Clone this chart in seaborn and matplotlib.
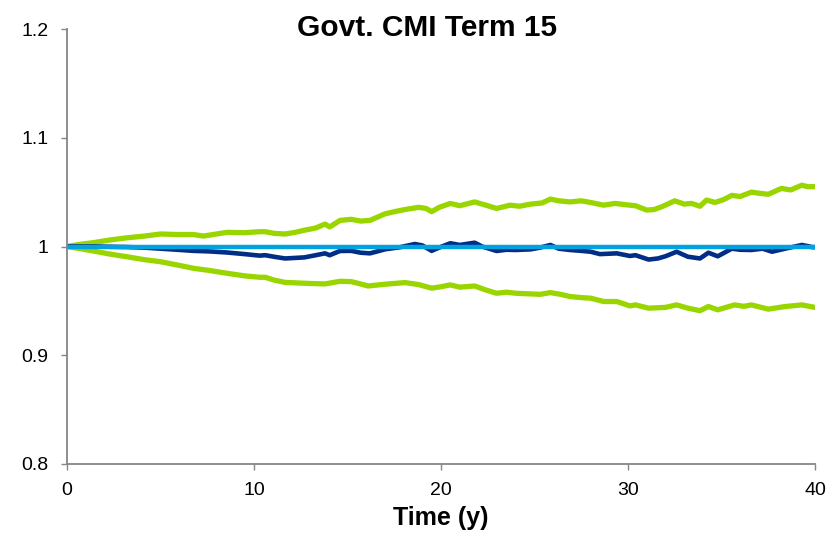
import matplotlib
matplotlib.use("Agg")
import matplotlib.pyplot as plt
import seaborn as sns
import pandas as pd
from matplotlib.ticker import FuncFormatter

# Percentile bands and central path of the index, by projection year
upper_t = [0, 0.7, 1.4, 2.3, 3.2, 4.1, 5.0, 5.9, 6.75, 7.3, 8.0, 8.55, 9.5, 10.3, 10.6,
           11.1, 11.66, 12.2, 12.7, 13.3, 13.8, 14.05, 14.6, 15.2, 15.7, 16.2, 16.6, 17.0,
           17.5, 18.07, 18.8, 19.2, 19.5, 19.9, 20.5, 21.0, 21.8, 22.4, 22.97, 23.7, 24.2,
           24.8, 25.4, 25.85, 26.3, 26.9, 27.5, 28.0, 28.7, 29.3, 30.1, 30.4, 31.0, 31.4,
           31.8, 32.5, 33.0, 33.4, 33.85, 34.2, 34.65, 35.1, 35.55, 36.0, 36.6, 37.0, 37.5,
           38.2, 38.7, 39.3, 39.6, 40.0]
upper_v = [1.0, 1.002, 1.0035, 1.006, 1.008, 1.0095, 1.0115, 1.011, 1.011, 1.0096, 1.0115,
           1.013, 1.0127, 1.0136, 1.0136, 1.012, 1.0115, 1.013, 1.015, 1.017, 1.0206, 1.018,
           1.024, 1.025, 1.0234, 1.024, 1.027, 1.030, 1.032, 1.034, 1.036, 1.035, 1.032,
           1.036, 1.0396, 1.0375, 1.041, 1.038, 1.035, 1.038, 1.037, 1.039, 1.040, 1.0436,
           1.042, 1.041, 1.042, 1.0405, 1.038, 1.0396, 1.038, 1.0375, 1.0335, 1.034, 1.0365,
           1.042, 1.039, 1.0396, 1.037, 1.0427, 1.0405, 1.043, 1.047, 1.046, 1.050, 1.049,
           1.048, 1.0534, 1.052, 1.0564, 1.055, 1.055]

lower_t = [0, 0.7, 1.4, 2.3, 3.2, 4.1, 5.0, 5.9, 6.75, 7.6, 8.55, 9.5, 10.3, 10.6, 11.1,
           11.66, 12.3, 13.0, 13.8, 14.6, 15.2, 15.6, 16.1, 17.0, 17.5, 18.07, 18.8, 19.5,
           20.0, 20.5, 21.0, 21.8, 22.4, 22.97, 23.5, 24.0, 24.8, 25.3, 25.85, 26.4, 26.9,
           27.5, 28.0, 28.7, 29.4, 30.1, 30.4, 31.1, 32.0, 32.6, 33.2, 33.85, 34.3, 34.8,
           35.7, 36.2, 36.6, 37.5, 38.4, 39.3, 40.0]
lower_v = [1.0, 0.998, 0.9959, 0.993, 0.9906, 0.988, 0.986, 0.983, 0.980, 0.978, 0.9754,
           0.973, 0.9717, 0.9717, 0.969, 0.967, 0.9665, 0.966, 0.9656, 0.968, 0.9677, 0.966,
           0.9637, 0.9653, 0.966, 0.9668, 0.965, 0.9617, 0.963, 0.9647, 0.9626, 0.9637,
           0.960, 0.957, 0.958, 0.957, 0.9564, 0.956, 0.9576, 0.956, 0.954, 0.953, 0.9525,
           0.9494, 0.9494, 0.9454, 0.9463, 0.9433, 0.944, 0.9463, 0.9433, 0.941, 0.9448,
           0.9418, 0.9463, 0.945, 0.9463, 0.9424, 0.9448, 0.9463, 0.944]

median_t = [0, 1.5, 3.2, 4.1, 5.0, 5.9, 6.75, 7.6, 8.55, 9.5, 10.3, 10.6, 11.1, 11.66, 12.2,
            12.7, 13.3, 13.8, 14.05, 14.6, 15.2, 15.7, 16.2, 16.6, 17.0, 17.8, 18.6, 19.0,
            19.5, 19.9, 20.5, 21.0, 21.8, 22.2, 22.97, 23.5, 24.0, 24.8, 25.3, 25.85, 26.3,
            26.9, 27.5, 28.0, 28.5, 29.4, 30.1, 30.4, 31.1, 31.6, 32.0, 32.6, 33.2, 33.85,
            34.3, 34.8, 35.55, 36.0, 36.6, 37.2, 37.7, 38.4, 39.3, 39.9, 40.0]
median_v = [1.0, 1.0, 0.9995, 0.999, 0.998, 0.997, 0.996, 0.9955, 0.9945, 0.993, 0.9916,
            0.992, 0.9905, 0.989, 0.9895, 0.990, 0.992, 0.9937, 0.992, 0.9959, 0.996,
            0.9943, 0.9937, 0.9955, 0.9974, 0.9993, 1.0023, 1.001, 0.996, 0.999, 1.003,
            1.0014, 1.0035, 1.000, 0.9959, 0.997, 0.9968, 0.9974, 0.999, 1.0014, 0.998,
            0.9968, 0.996, 0.9952, 0.993, 0.9937, 0.9913, 0.992, 0.988, 0.989, 0.991,
            0.9952, 0.9906, 0.989, 0.9943, 0.991, 0.998, 0.997, 0.9968, 0.998, 0.9952,
            0.998, 1.0014, 0.9993, 0.9995]

base_t = [0, 40]
base_v = [1.0, 1.0]

x_ticks = [0, 10, 20, 30, 40]
y_ticks = [0.8, 0.9, 1.0, 1.1, 1.2]

GREEN = "#99D600"
NAVY = "#002D85"
LIGHT_BLUE = "#00A3DF"
AXIS_GREY = "#868686"

sns.set_style("white")
plt.rcParams["font.family"] = ["Liberation Sans", "DejaVu Sans"]

W, H = 838, 533
fig = plt.figure(figsize=(W / 100, H / 100), dpi=100)
ax = fig.add_axes([67 / W, 1 - 464 / H, (815 - 67) / W, (464 - 29) / H])

upper = pd.DataFrame({"t": upper_t, "v": upper_v})
lower = pd.DataFrame({"t": lower_t, "v": lower_v})
median = pd.DataFrame({"t": median_t, "v": median_v})
base = pd.DataFrame({"t": base_t, "v": base_v})

line_kw = dict(solid_capstyle="round", solid_joinstyle="round")
sns.lineplot(data=upper, x="t", y="v", color=GREEN, linewidth=3.8, ax=ax, **line_kw)
sns.lineplot(data=lower, x="t", y="v", color=GREEN, linewidth=3.8, ax=ax, **line_kw)
sns.lineplot(data=median, x="t", y="v", color=NAVY, linewidth=3.3, ax=ax, **line_kw)
sns.lineplot(data=base, x="t", y="v", color=LIGHT_BLUE, linewidth=3.2, ax=ax, **line_kw)

ax.set_xlim(0, 40)
ax.set_ylim(0.8, 1.2)
ax.set_xticks(x_ticks)
ax.set_yticks(y_ticks)
ax.yaxis.set_major_formatter(FuncFormatter(lambda v, _: f"{v:g}"))

for side in ("top", "right"):
    ax.spines[side].set_visible(False)
for side in ("left", "bottom"):
    ax.spines[side].set_color(AXIS_GREY)
    ax.spines[side].set_linewidth(1.3)

ax.tick_params(axis="both", which="major", direction="out", length=4.3, width=1.0,
               color=AXIS_GREY, labelsize=14, labelcolor="black",
               bottom=True, left=True)
ax.tick_params(axis="x", pad=9)
ax.tick_params(axis="y", pad=9)

fig.text(427 / W, 1 - 36 / H, "Govt. CMI Term 15", fontsize=21.5, fontweight="bold",
         color="black", ha="center", va="baseline")

ax.set_xlabel("Time (y)", fontsize=18, fontweight="bold", color="black")
ax.xaxis.set_label_coords((441 - 67) / 748, (464 - 525) / 435)
ax.xaxis.label.set_va("baseline")
ax.set_ylabel("")

fig.savefig("out.png", dpi=100)
